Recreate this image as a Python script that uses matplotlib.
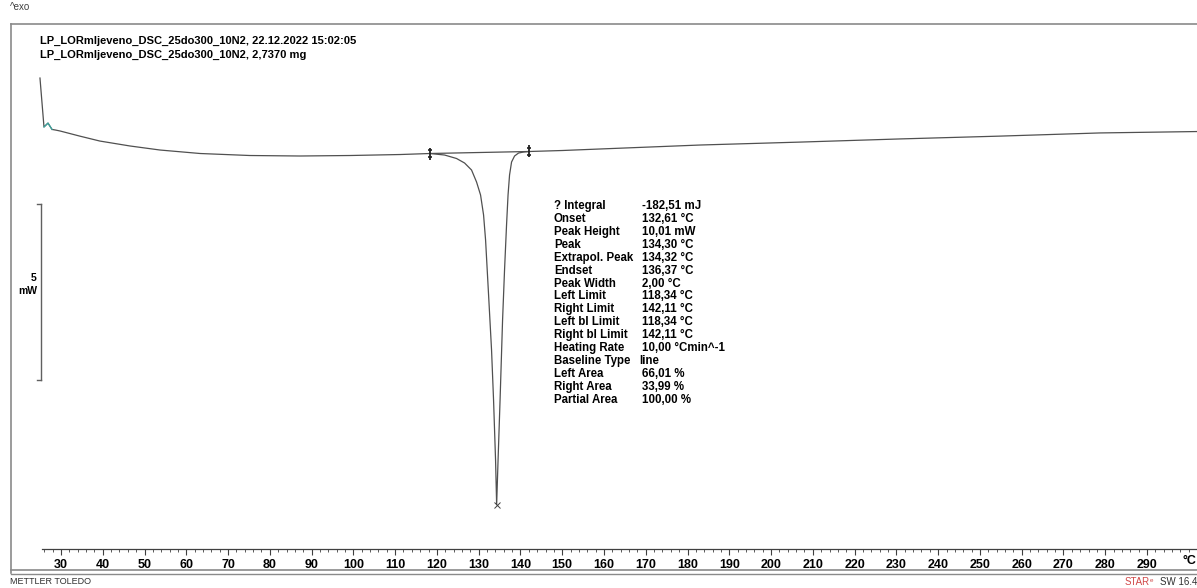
import numpy as np
import matplotlib.pyplot as plt
from matplotlib.lines import Line2D
from matplotlib.ticker import FixedLocator

plt.rcParams['font.family'] = ['Liberation Sans', 'DejaVu Sans']

# DSC heat flow curve (°C, mW)
temp_start = [24.97, 25.93, 26.89, 27.85, 28.8, 29.8, 34.5, 39.3, 46.5, 53.7,
              63.3, 75.2, 87.2, 99.2, 111.2]
flow_start = [2.13, 0.74, 0.85, 0.67, 0.65, 0.625, 0.48, 0.34, 0.20, 0.085,
              -0.014, -0.071, -0.085, -0.071, -0.043]

temp_peak = [118.34, 121.83, 124.70, 126.62, 128.29, 129.49, 130.45, 131.17, 131.65, 132.37,
             133.08, 133.56, 134.04, 134.30, 134.64, 135.12, 135.72, 136.19, 136.67, 137.03,
             137.39, 137.87, 138.59, 139.55, 140.74, 142.11]
flow_peak = [-0.014, -0.057, -0.156, -0.284, -0.483, -0.824, -1.193, -1.761, -2.472, -4.034,
             -5.597, -7.017, -8.722, -9.99, -8.722, -7.017, -4.744, -3.324, -2.045, -1.193,
             -0.625, -0.256, -0.085, 0.0, 0.028, 0.043]

temp_end = [150.0, 159.0, 183.0, 206.9, 230.9, 254.8, 278.7, 302.0]
flow_end = [0.071, 0.114, 0.227, 0.31, 0.40, 0.48, 0.57, 0.61]

# evaluation results
left_limit = 118.34
right_limit = 142.11
peak_temp = 134.30
result_names = ['? Integral', 'Onset', 'Peak Height', 'Peak', 'Extrapol. Peak', 'Endset',
                'Peak Width', 'Left Limit', 'Right Limit', 'Left bl Limit', 'Right bl Limit',
                'Heating Rate', 'Baseline Type', 'Left Area', 'Right Area', 'Partial Area']
result_values = ['-182,51 mJ', '132,61 °C', '10,01 mW', '134,30 °C', '134,32 °C', '136,37 °C',
                 '2,00 °C', '118,34 °C', '142,11 °C', '118,34 °C', '142,11 °C',
                 '10,00 °Cmin^-1', 'line', '66,01 %', '33,99 %', '100,00 %']
scale_mw = 5
scale_top = -1.449

W, H = 1197, 588
fig = plt.figure(figsize=(W / 100, H / 100), dpi=100)


def fx(x):
    return x / W


def fy(y):
    return 1 - y / H


ax = fig.add_axes([0, 0, 1, 1])
ax.set_xlim(15.40, 301.97)
ax.set_ylim(-12.358, 4.347)
ax.axis('off')

curve_c = '#505050'
temp = temp_start + temp_peak + temp_end
flow = flow_start + flow_peak + flow_end
ax.plot(temp, flow, color=curve_c, lw=0.9)
# small teal segment at the start
ax.plot(temp_start[1:4], flow_start[1:4], color='#3aa6a0', lw=0.9)

# integration baseline and limits
ax.plot([left_limit, right_limit], [flow_peak[0], flow_peak[-1]], color=curve_c, lw=0.9)
for t, f in [(left_limit, flow_peak[0]), (right_limit, flow_peak[-1])]:
    ax.plot([t], [f], marker='|', ms=8, mew=1.3, color='#202020')
    ax.plot([t], [f + 0.1], marker='_', ms=3, mew=1.2, color='#202020')
    ax.plot([t], [f - 0.1], marker='_', ms=3, mew=1.2, color='#202020')
ip = temp_peak.index(peak_temp)
ax.plot([peak_temp], [flow_peak[ip]], marker='x', ms=4, mew=0.7, color='#404040')

# 5 mW scale bar
bar_x = 25.21
ax.plot([bar_x, bar_x], [scale_top, scale_top - scale_mw], color='#606060', lw=1.0)
for v in [scale_top, scale_top - scale_mw]:
    ax.plot([bar_x - 0.95, bar_x], [v, v], color='#606060', lw=1.0)
fig.text(fx(36), fy(278), str(scale_mw), ha='right', va='center', fontsize=7.5, fontweight='bold')
fig.text(fx(37), fy(291), 'mW', ha='right', va='center', fontsize=7.5, fontweight='bold')

# frame lines
frame_c = '#8a8a8a'
fig.add_artist(Line2D([fx(11), fx(11)], [fy(24), fy(573)], color=frame_c, lw=1.2))
fig.add_artist(Line2D([fx(11), 1], [fy(24), fy(24)], color=frame_c, lw=1.2))
fig.add_artist(Line2D([fx(11), 1], [fy(570), fy(570)], color=frame_c, lw=1.2))
fig.add_artist(Line2D([fx(11), 1], [fy(573.5), fy(573.5)], color=frame_c, lw=1.0))

# temperature axis
tax = fig.add_axes([0, fy(549), 1, 0.0001])
tax.set_xlim(ax.get_xlim())
tax.patch.set_visible(False)
for s in ['top', 'left', 'right']:
    tax.spines[s].set_visible(False)
tax.spines['bottom'].set_bounds(25.4, 302)
tax.spines['bottom'].set_color('#404040')
tax.spines['bottom'].set_linewidth(0.9)
tax.set_yticks([])
tax.set_xticks(np.arange(30, 300, 10))
tax.xaxis.set_minor_locator(FixedLocator(np.arange(26, 302, 2)))
tax.tick_params(axis='x', which='major', direction='out', length=4, width=0.8,
                color='#404040', labelsize=9, pad=3)
tax.tick_params(axis='x', which='minor', direction='out', length=2.5, width=0.6, color='#404040')
for lab in tax.get_xticklabels():
    lab.set_fontweight('bold')
fig.text(fx(1189), fy(561), '°C', ha='center', va='center', fontsize=9, fontweight='bold')

# header texts
fig.text(fx(10), fy(7), '^exo', ha='left', va='center', fontsize=7, color='#404040')
fig.text(fx(40), fy(41), 'LP_LORmljeveno_DSC_25do300_10N2, 22.12.2022 15:02:05',
         ha='left', va='center', fontsize=8, fontweight='bold')
fig.text(fx(40), fy(55), 'LP_LORmljeveno_DSC_25do300_10N2, 2,7370 mg',
         ha='left', va='center', fontsize=8, fontweight='bold')

# evaluation table
for i, (n, v) in enumerate(zip(result_names, result_values)):
    yy = 206 + i * 12.92
    fig.text(fx(554), fy(yy), n, ha='left', va='center', fontsize=8.3, fontweight='bold')
    vx = 639 if n == 'Baseline Type' else 642
    fig.text(fx(vx), fy(yy), v, ha='left', va='center', fontsize=8.3, fontweight='bold')

# footer
fig.text(fx(10), fy(582), 'METTLER TOLEDO', ha='left', va='center', fontsize=6.5, color='#303030')
fig.text(fx(1150), fy(582), 'STAR', ha='right', va='center', fontsize=7, color='#d04848')
fig.text(fx(1150), fy(580), 'e', ha='left', va='center', fontsize=4.5, color='#d04848')
fig.text(fx(1197), fy(582), 'SW 16.4', ha='right', va='center', fontsize=7, color='#303030')

fig.savefig('out.png', dpi=100)
